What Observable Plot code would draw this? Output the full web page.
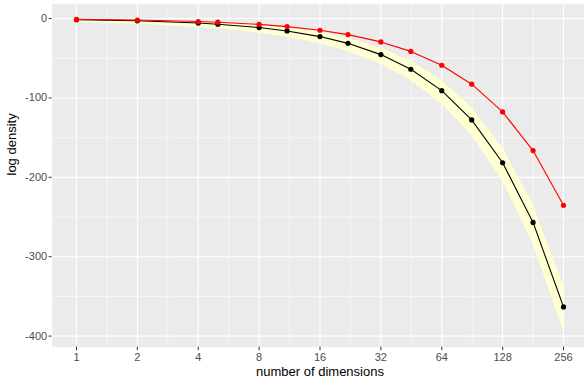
<!DOCTYPE html>
<html><head><meta charset="utf-8">
<script src="https://cdn.jsdelivr.net/npm/d3@7"></script>
<script src="https://cdn.jsdelivr.net/npm/@observablehq/plot@0.6"></script>
<style>html,body{margin:0;padding:0;background:#fff;overflow:hidden}</style>
</head><body><div id="chart"></div>
<script>
const dims = [1, 2, 4, 5, 8, 11, 16, 22, 32, 45, 64, 90, 128, 181, 256];
const modeLogDensity = [-0.92, -1.84, -3.68, -4.59, -7.35, -10.11, -14.70, -20.22, -29.41, -41.35, -58.81, -82.70, -117.62, -166.32, -235.24];
const meanLogDensity = [-1.42, -2.84, -5.68, -7.09, -11.35, -15.61, -22.70, -31.22, -45.41, -63.85, -90.81, -127.70, -181.62, -256.82, -363.24];
const bandUpper = [-0.92, -1.84, -3.78, -4.80, -8.02, -11.41, -17.27, -24.54, -36.98, -53.51, -78.10, -112.29, -162.88, -234.18, -335.96];
const bandLower = [-4.86, -7.14, -11.11, -12.97, -18.33, -23.49, -31.84, -41.62, -57.57, -77.93, -107.26, -146.86, -204.12, -283.22, -394.27];
const xTicks = [1, 2, 4, 8, 16, 32, 64, 128, 256];
const xMinor = [1.414, 2.828, 5.657, 11.314, 22.627, 45.255, 90.510, 181.019];
const yTicks = [0, -100, -200, -300, -400];
const yMinor = [-50, -150, -250, -350];
const xTitle = "number of dimensions";
const yTitle = "log density";

const data = dims.map((d, i) => ({dim: d, mode: modeLogDensity[i], mean: meanLogDensity[i], hi: bandUpper[i], lo: bandLower[i]}));

const chart = Plot.plot({
  width: 584, height: 378,
  marginLeft: 51.65, marginRight: -3.35, marginTop: 3.3, marginBottom: 31.3,
  style: {fontFamily: "'Liberation Sans', Arial, Helvetica, sans-serif", background: "#fff"},
  x: {type: "log", base: 2, domain: [Math.pow(2, -0.4), Math.pow(2, 8.4)]},
  y: {domain: [-414, 18.6]},
  marks: [
    Plot.frame({fill: "#EBEBEB", stroke: null}),
    Plot.ruleX(xMinor, {stroke: "#fff", strokeWidth: 0.55}),
    Plot.ruleY(yMinor, {stroke: "#fff", strokeWidth: 0.55}),
    Plot.ruleX(xTicks, {stroke: "#fff", strokeWidth: 1.1}),
    Plot.ruleY(yTicks, {stroke: "#fff", strokeWidth: 1.1}),
    Plot.areaY(data, {x: "dim", y1: "lo", y2: "hi", fill: "#FFFFD2"}),
    Plot.line(data, {x: "dim", y: "mean", stroke: "#000", strokeWidth: 1.1}),
    Plot.dot(data, {x: "dim", y: "mean", r: 2.6, fill: "#000", stroke: null}),
    Plot.line(data, {x: "dim", y: "mode", stroke: "#FF0000", strokeWidth: 1.1}),
    Plot.dot(data, {x: "dim", y: "mode", r: 2.6, fill: "#FF0000", stroke: null}),
    Plot.axisX({ticks: xTicks, tickFormat: d => String(d), tickSize: 3.5, tickPadding: 2.5, fontSize: 11, fill: "#4D4D4D", stroke: "#333", label: null}),
    Plot.axisY({ticks: yTicks, tickFormat: d => String(d), tickSize: 3, tickPadding: 2, fontSize: 11, fill: "#4D4D4D", stroke: "#333", label: null}),
    Plot.text([xTitle], {text: d => d, frameAnchor: "bottom", dy: 28.3, lineAnchor: "bottom", fontSize: 13, fill: "#000"}),
    Plot.text([yTitle], {text: d => d, frameAnchor: "left", dx: -36.5, rotate: -90, lineAnchor: "bottom", fontSize: 13, fill: "#000"})
  ]
});
document.getElementById("chart").appendChild(chart);
</script>
</body></html>
